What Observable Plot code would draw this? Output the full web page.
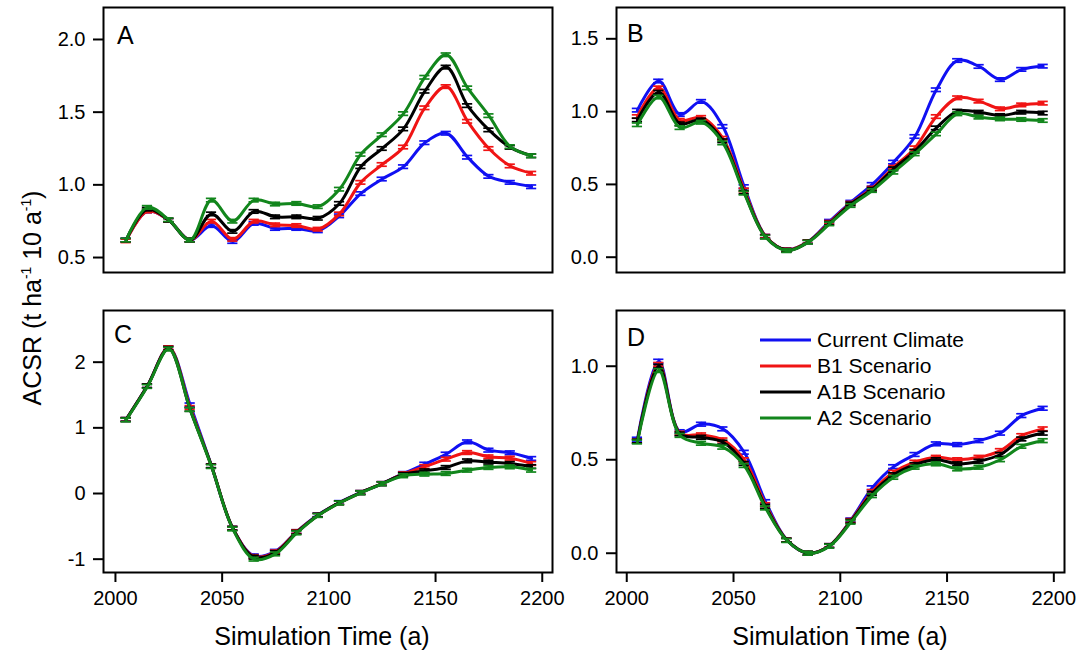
<!DOCTYPE html>
<html><head><meta charset="utf-8">
<script src="https://cdn.jsdelivr.net/npm/d3@7"></script>
<script src="https://cdn.jsdelivr.net/npm/@observablehq/plot@0.6"></script>
<style>
body{margin:0;background:#fff;}
#wrap{position:relative;width:1079px;height:657px;overflow:hidden;font-family:"Liberation Sans",Arial,sans-serif;color:#000;background:#fff;}
.panel{position:absolute;}
.xlab{position:absolute;font-size:25px;line-height:25px;white-space:nowrap;transform:translateX(-50%);}
.ylab{position:absolute;font-size:25px;line-height:25px;white-space:nowrap;transform:translate(-50%,-50%) rotate(-90deg);}
.ylab sup{font-size:0.55em;vertical-align:0.7em;line-height:0;}
.letter{position:absolute;font-size:25px;line-height:25px;}
#legend{position:absolute;left:0;top:0;pointer-events:none;}
</style></head><body><div id="wrap"></div>
<script>
// ---- data ----
const years = [2005,2015,2025,2035,2045,2055,2065,2075,2085,2095,2105,2115,2125,2135,2145,2155,2165,2175,2185,2195];
const seriesNames = ["Current Climate","B1 Scenario","A1B Scenario","A2 Scenario"];
const seriesColors = ["#1010f2","#f01414","#000000","#12861c"];
const xTicks = [2000,2050,2100,2150,2200];

const A_current = [0.62,0.82,0.757,0.62,0.72,0.61,0.735,0.70,0.70,0.684,0.787,0.94,1.04,1.125,1.29,1.355,1.19,1.058,1.017,0.987];
const A_b1      = [0.615,0.82,0.757,0.62,0.75,0.625,0.75,0.725,0.72,0.695,0.80,1.017,1.14,1.26,1.53,1.676,1.437,1.25,1.13,1.08];
const A_a1b     = [0.62,0.833,0.757,0.62,0.80,0.68,0.817,0.78,0.78,0.77,0.872,1.125,1.25,1.385,1.644,1.81,1.545,1.378,1.258,1.20];
const A_a2      = [0.62,0.845,0.76,0.62,0.895,0.75,0.895,0.868,0.872,0.85,0.97,1.21,1.345,1.49,1.74,1.895,1.667,1.476,1.263,1.20];

const B_current = [1.01,1.21,0.98,1.07,0.898,0.485,0.144,0.05,0.107,0.247,0.378,0.50,0.653,0.829,1.15,1.351,1.31,1.22,1.29,1.312];
const B_b1      = [0.966,1.163,0.94,0.96,0.817,0.462,0.144,0.05,0.107,0.24,0.371,0.474,0.618,0.751,0.966,1.095,1.072,1.019,1.046,1.058];
const B_a1b     = [0.943,1.133,0.916,0.943,0.80,0.447,0.14,0.048,0.105,0.234,0.366,0.467,0.607,0.728,0.888,1.003,0.996,0.973,0.996,0.99];
const B_a2      = [0.91,1.10,0.89,0.927,0.785,0.44,0.138,0.045,0.103,0.229,0.355,0.458,0.584,0.71,0.847,0.985,0.962,0.95,0.946,0.939];

const C_current = [1.127,1.64,2.22,1.35,0.42,-0.53,-0.95,-0.88,-0.58,-0.325,-0.137,0.015,0.152,0.305,0.447,0.60,0.787,0.66,0.62,0.533];
const C_b1      = [1.127,1.64,2.22,1.31,0.42,-0.53,-0.96,-0.89,-0.58,-0.33,-0.14,0.015,0.152,0.30,0.41,0.523,0.624,0.558,0.538,0.457];
const C_a1b     = [1.127,1.64,2.21,1.28,0.42,-0.53,-0.97,-0.90,-0.59,-0.33,-0.14,0.015,0.15,0.29,0.345,0.396,0.497,0.477,0.457,0.41];
const C_a2      = [1.12,1.63,2.20,1.28,0.41,-0.54,-1.0,-0.92,-0.60,-0.335,-0.145,0.01,0.148,0.27,0.295,0.305,0.355,0.396,0.406,0.355];

const D_current = [0.61,1.027,0.65,0.69,0.665,0.54,0.276,0.071,0.0,0.041,0.178,0.35,0.463,0.528,0.585,0.581,0.602,0.642,0.736,0.775];
const D_b1      = [0.60,1.01,0.642,0.633,0.606,0.50,0.26,0.071,0.0,0.041,0.175,0.33,0.433,0.487,0.513,0.50,0.513,0.549,0.629,0.665];
const D_a1b     = [0.60,1.0,0.638,0.62,0.594,0.48,0.25,0.07,0.0,0.04,0.171,0.32,0.42,0.474,0.50,0.478,0.492,0.528,0.611,0.642];
const D_a2      = [0.595,0.977,0.63,0.588,0.567,0.469,0.242,0.068,0.0,0.038,0.166,0.308,0.406,0.46,0.478,0.451,0.46,0.50,0.572,0.602];

const errA = 0.012, errB = 0.012, errC = 0.028, errD = 0.01;
const yTicksA = [0.5,1.0,1.5,2.0];
const yTicksB = [0.0,0.5,1.0,1.5];
const yTicksC = [-1,0,1,2];
const yTicksD = [0.0,0.5,1.0];

// ---- layout ----
const wrap = document.getElementById("wrap");
const f1 = d => d.toFixed(1);
const fi = d => String(d);
const panels = [
  {letter:"A", lx:117, ly:23, left:0,   top:0,   width:560, height:290, mL:103, mT:7,  mR:8,  mB:18, xDom:[1994.4,2204.8], yDom:[0.397,2.22],  yTicks:yTicksA, fmt:f1, series:[A_current,A_b1,A_a1b,A_a2], err:errA, xAxis:false},
  {letter:"B", lx:627, ly:21, left:520, top:0,   width:559, height:290, mL:96,  mT:7,  mR:15, mB:18, xDom:[1995.2,2205.0], yDom:[-0.105,1.715], yTicks:yTicksB, fmt:f1, series:[B_current,B_b1,B_a1b,B_a2], err:errB, xAxis:false},
  {letter:"C", lx:114, ly:322, left:0,  top:295, width:560, height:340, mL:103, mT:15, mR:8,  mB:63, xDom:[1994.4,2204.8], yDom:[-1.203,2.787], yTicks:yTicksC, fmt:fi, series:[C_current,C_b1,C_a1b,C_a2], err:errC, xAxis:true},
  {letter:"D", lx:627, ly:325, left:520, top:295, width:559, height:340, mL:96,  mT:15, mR:15, mB:63, xDom:[1995.2,2205.0], yDom:[-0.103,1.298], yTicks:yTicksD, fmt:f1, series:[D_current,D_b1,D_a1b,D_a2], err:errD, xAxis:true}
];

for (const p of panels) {
  const marks = [];
  p.series.forEach((vals, si) => {
    const rows = years.map((y, i) => ({year: y, v: vals[i], series: seriesNames[si]}));
    const col = seriesColors[si];
    marks.push(Plot.line(rows, {x: "year", y: "v", stroke: col, strokeWidth: 3, curve: "catmull-rom"}));
    marks.push(Plot.ruleX(rows, {x: "year", y1: d => d.v - p.err, y2: d => d.v + p.err, stroke: col, strokeWidth: 1.5}));
    marks.push(Plot.ruleY(rows, {x1: d => d.year - 2.4, x2: d => d.year + 2.4, y: d => d.v + p.err, stroke: col, strokeWidth: 1.7}));
    marks.push(Plot.ruleY(rows, {x1: d => d.year - 2.4, x2: d => d.year + 2.4, y: d => d.v - p.err, stroke: col, strokeWidth: 1.7}));
  });
  marks.push(Plot.frame({stroke: "#000", strokeWidth: 2}));
  marks.push(Plot.axisY({ticks: p.yTicks, tickFormat: p.fmt, tickSize: 10, tickPadding: 8, strokeWidth: 2, fontSize: 20, label: null}));
  if (p.xAxis) marks.push(Plot.axisX({ticks: xTicks, tickFormat: fi, tickSize: 10, tickPadding: 8, strokeWidth: 2, fontSize: 20, label: null}));
  const svg = Plot.plot({
    width: p.width, height: p.height,
    marginLeft: p.mL, marginTop: p.mT, marginRight: p.mR, marginBottom: p.mB,
    style: {fontFamily: "'Liberation Sans', Arial, sans-serif", fontSize: "20px", color: "#000", background: "transparent", overflow: "visible"},
    x: {domain: p.xDom, axis: p.xAxis ? undefined : null},
    y: {domain: p.yDom},
    marks
  });
  svg.classList.add("panel");
  svg.style.left = p.left + "px";
  svg.style.top = p.top + "px";
  wrap.appendChild(svg);
  const L = document.createElement("div");
  L.className = "letter";
  L.textContent = p.letter;
  L.style.left = p.lx + "px";
  L.style.top = p.ly + "px";
  wrap.appendChild(L);
}

// axis titles
const xl1 = document.createElement("div"); xl1.className = "xlab"; xl1.textContent = "Simulation Time (a)";
xl1.style.left = "322px"; xl1.style.top = "624px"; wrap.appendChild(xl1);
const xl2 = document.createElement("div"); xl2.className = "xlab"; xl2.textContent = "Simulation Time (a)";
xl2.style.left = "840px"; xl2.style.top = "624px"; wrap.appendChild(xl2);
const yl = document.createElement("div"); yl.className = "ylab";
yl.innerHTML = "ACSR (t ha<sup>-1</sup> 10 a<sup>-1</sup>)";
yl.style.left = "32px"; yl.style.top = "298px"; wrap.appendChild(yl);

// legend
const ns = "http://www.w3.org/2000/svg";
const lg = document.createElementNS(ns, "svg");
lg.setAttribute("id", "legend"); lg.setAttribute("width", 1079); lg.setAttribute("height", 657);
const legY = [340, 366, 392, 418];
seriesNames.forEach((n, i) => {
  const ln = document.createElementNS(ns, "line");
  ln.setAttribute("x1", 760); ln.setAttribute("x2", 811);
  ln.setAttribute("y1", legY[i]); ln.setAttribute("y2", legY[i]);
  ln.setAttribute("stroke", seriesColors[i]); ln.setAttribute("stroke-width", 3);
  lg.appendChild(ln);
  const t = document.createElementNS(ns, "text");
  t.setAttribute("x", 817); t.setAttribute("y", legY[i]);
  t.setAttribute("dy", "0.35em");
  t.setAttribute("font-size", "21px");
  t.setAttribute("font-family", "'Liberation Sans', Arial, sans-serif");
  t.textContent = n;
  lg.appendChild(t);
});
wrap.appendChild(lg);
</script></body></html>
